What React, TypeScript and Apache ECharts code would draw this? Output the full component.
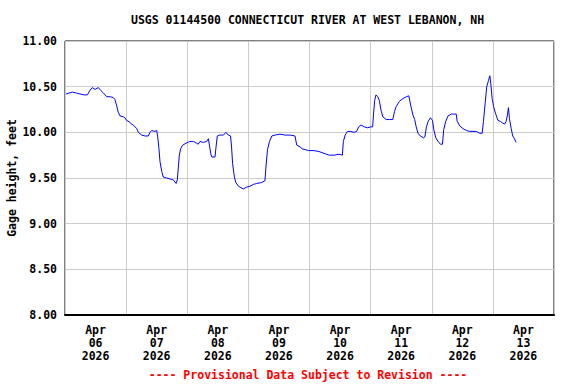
import React, { useEffect, useRef } from "react";
import * as echarts from "echarts";

const TITLE = "USGS 01144500 CONNECTICUT RIVER AT WEST LEBANON, NH";
const FOOTER = "---- Provisional Data Subject to Revision ----";
const Y_NAME = "Gage height, feet";
const X_LABELS = ["Apr\n06\n2026", "Apr\n07\n2026", "Apr\n08\n2026", "Apr\n09\n2026", "Apr\n10\n2026", "Apr\n11\n2026", "Apr\n12\n2026", "Apr\n13\n2026"];

// hours since Apr 06 00:00
const hours = [
  0.4, 1.5, 3.0, 4.5, 5.9, 7.5, 8.8, 9.8, 10.7, 11.8, 13.1, 14.0, 15.1, 16.4, 17.7, 19.0, 19.6, 20.3, 20.9, 21.6,
  22.9, 23.5, 24.2, 25.5, 26.1, 26.8, 28.2, 28.8, 30.1, 31.4, 32.7, 33.4, 34.0, 35.3, 36.0, 36.4, 36.9, 37.3, 38.0, 38.6,
  39.9, 41.2, 42.5, 43.6, 44.1, 44.5, 44.9, 45.4, 46.2, 47.5, 49.0, 50.4, 51.7, 52.3, 53.0, 54.3, 55.6, 56.3, 56.7, 57.2,
  57.6, 58.9, 59.3, 59.8, 60.8, 62.2, 63.2, 64.1, 65.0, 65.4, 65.8, 66.5, 67.1, 68.1, 68.7, 70.0, 71.3, 72.6, 74.0, 75.3,
  77.2, 78.5, 78.9, 79.5, 80.3, 81.2, 82.5, 84.4, 86.4, 88.4, 90.3, 91.0, 92.3, 93.1, 94.4, 95.7, 97.7, 99.7, 101.7, 103.7,
  105.6, 107.6, 108.9, 109.3, 110.0, 110.9, 112.2, 113.5, 114.5, 115.3, 116.2, 117.5, 118.8, 120.1, 120.8, 121.1, 121.6, 122.1, 122.8, 123.4,
  124.1, 124.8, 126.1, 127.4, 128.7, 129.4, 130.0, 131.3, 132.7, 134.0, 135.0, 135.7, 136.6, 137.3, 137.9, 138.6, 139.5, 140.8, 141.3, 141.9,
  142.6, 143.5, 144.3, 144.8, 145.6, 146.5, 147.4, 148.2, 148.7, 149.5, 150.4, 151.7, 153.0, 153.6, 154.0, 155.0, 156.3, 157.6, 158.9, 160.2,
  161.5, 162.8, 163.8, 164.3, 165.0, 165.6, 166.3, 166.8, 167.2, 167.7, 168.3, 169.0, 170.0, 170.9, 171.9, 172.6, 173.2, 173.7, 174.1, 174.5,
  175.2, 175.8, 176.5, 177.1,
];

const gage = [
  10.42, 10.43, 10.44, 10.43, 10.42, 10.41, 10.41, 10.46, 10.49, 10.47, 10.49, 10.46, 10.43, 10.39, 10.39, 10.38, 10.36, 10.29, 10.22, 10.18,
  10.17, 10.16, 10.13, 10.11, 10.09, 10.08, 10.04, 10.0, 9.97, 9.96, 9.96, 10.0, 10.02, 10.01, 10.02, 9.95, 9.82, 9.68, 9.57, 9.51,
  9.5, 9.49, 9.48, 9.44, 9.48, 9.62, 9.75, 9.82, 9.86, 9.88, 9.9, 9.9, 9.88, 9.87, 9.9, 9.89, 9.9, 9.93, 9.86, 9.77,
  9.73, 9.73, 9.84, 9.96, 9.97, 9.97, 10.0, 9.97, 9.96, 9.84, 9.66, 9.51, 9.45, 9.41, 9.4, 9.38, 9.4, 9.41, 9.43, 9.44,
  9.45, 9.47, 9.62, 9.81, 9.9, 9.96, 9.97, 9.98, 9.97, 9.97, 9.96, 9.86, 9.84, 9.82, 9.81, 9.8, 9.8, 9.79, 9.77, 9.75,
  9.75, 9.76, 9.75, 9.9, 9.97, 10.01, 10.01, 10.0, 10.01, 10.06, 10.08, 10.06, 10.05, 10.06, 10.06, 10.19, 10.35, 10.41, 10.39, 10.35,
  10.24, 10.17, 10.14, 10.14, 10.14, 10.23, 10.28, 10.34, 10.37, 10.39, 10.4, 10.3, 10.19, 10.14, 10.06, 9.99, 9.96, 9.94, 9.95, 10.06,
  10.12, 10.16, 10.13, 10.03, 9.94, 9.9, 9.87, 9.87, 10.03, 10.12, 10.18, 10.2, 10.2, 10.2, 10.12, 10.07, 10.04, 10.02, 10.01, 10.01,
  10.01, 9.99, 9.99, 10.12, 10.33, 10.5, 10.57, 10.62, 10.53, 10.37, 10.28, 10.21, 10.13, 10.12, 10.1, 10.09, 10.12, 10.19, 10.27, 10.15,
  10.04, 9.96, 9.93, 9.89,
];

const FONT = "'DejaVu Sans Mono', monospace";

export default function App() {
  const ref = useRef<HTMLDivElement>(null);
  useEffect(() => {
    document.body.style.margin = "0";
    if (!ref.current) return;
    const chart = echarts.init(ref.current, null, { renderer: "svg" });
    chart.setOption({
      animation: false,
      backgroundColor: "#ffffff",
      title: {
        text: TITLE,
        left: 131,
        top: 14,
        textStyle: { fontFamily: FONT, fontWeight: "bold", fontSize: 11.5, color: "#000" },
        padding: 0,
      },
      grid: {
        left: 65,
        right: 22,
        top: 41,
        bottom: 69,
        show: true,
        borderColor: "#000",
        borderWidth: 1,
        backgroundColor: "transparent",
        containLabel: false,
        outerBoundsMode: "none",
      },
      xAxis: [
        {
          type: "value",
          min: 0,
          max: 192,
          interval: 24,
          axisLabel: { show: false },
          axisTick: { show: false },
          axisLine: { show: true, lineStyle: { color: "#000", width: 2 } },
          splitLine: { show: true, lineStyle: { color: "#cccccc", width: 1 } },
        },
        {
          type: "category",
          position: "bottom",
          data: X_LABELS,
          boundaryGap: true,
          axisLine: { show: false },
          axisTick: { show: false },
          splitLine: { show: false },
          axisLabel: {
            interval: 0,
            margin: 9,
            lineHeight: 12.7,
            fontFamily: FONT,
            fontWeight: "bold",
            fontSize: 11.5,
            color: "#000",
          },
        },
      ],
      yAxis: {
        type: "value",
        min: 8,
        max: 11,
        interval: 0.5,
        name: Y_NAME,
        nameLocation: "middle",
        nameRotate: 90,
        nameGap: 47,
        nameMoveOverlap: false,
        nameTextStyle: { fontFamily: FONT, fontWeight: "bold", fontSize: 11.5, color: "#000" },
        axisLine: { show: false },
        axisTick: { show: false },
        splitLine: { show: true, lineStyle: { color: "#cccccc", width: 1 } },
        axisLabel: {
          margin: 8,
          formatter: (v: number) => v.toFixed(2),
          fontFamily: FONT,
          fontWeight: "bold",
          fontSize: 11.5,
          color: "#000",
        },
      },
      graphic: [
        {
          type: "text",
          x: 308,
          y: 375,
          style: {
            text: FOOTER,
            fill: "#ff0000",
            font: `bold 11.5px ${FONT}`,
            textAlign: "center",
            textVerticalAlign: "middle",
          },
        },
      ],
      series: [
        {
          type: "line",
          xAxisIndex: 0,
          yAxisIndex: 0,
          data: hours.map((h, i) => [h, gage[i]]),
          showSymbol: false,
          lineStyle: { color: "#0000ff", width: 1 },
          itemStyle: { color: "#0000ff" },
          z: 3,
        },
      ],
    });
    return () => chart.dispose();
  }, []);
  return <div ref={ref} style={{ width: 576, height: 384 }} />;
}
